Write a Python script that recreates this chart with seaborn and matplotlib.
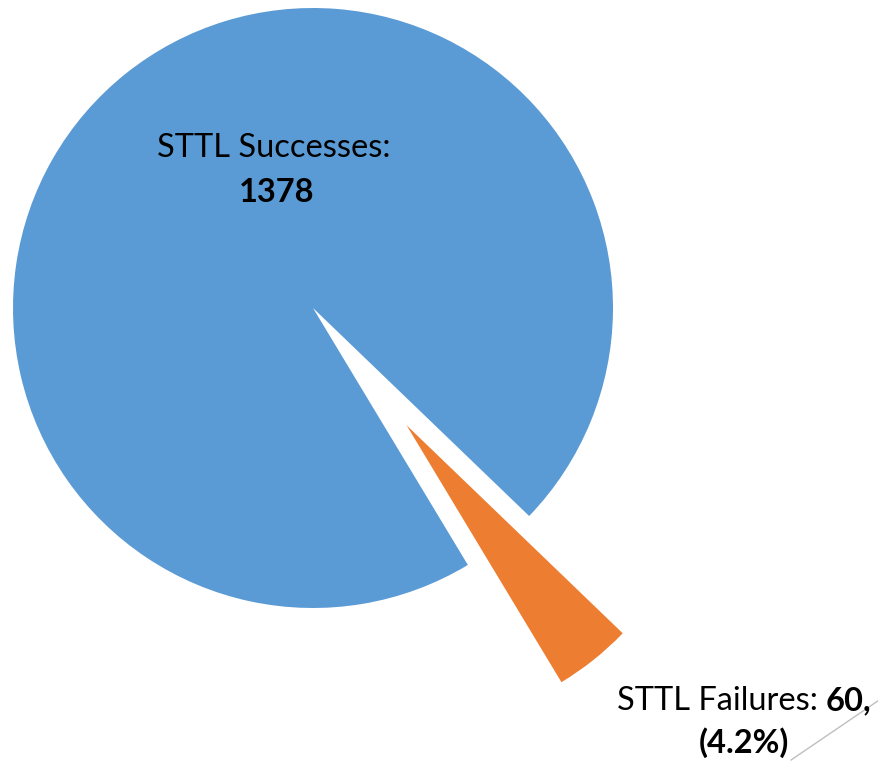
import matplotlib
matplotlib.use("Agg")
import matplotlib.pyplot as plt
import seaborn as sns

# data
categories = ["STTL Successes", "STTL Failures"]
counts = [1378, 60]
colors = ["#5B9BD5", "#ED7D31"]
explode = [0.0, 0.5]

sns.set_theme(style="white")
plt.rcParams["font.family"] = ["Lato", "DejaVu Sans"]

fig = plt.figure(figsize=(8.79, 7.64), dpi=100)
ax = fig.add_axes([0, 0, 1, 1])

total = sum(counts)
ax.pie(
    counts,
    colors=colors,
    explode=explode,
    startangle=-43.9,
    radius=1.0,
    wedgeprops={"linewidth": 0},
)

# keep 300 px per data unit on both axes, pie centre at (313, 308) px
ax.set_aspect("auto")
ax.set_xlim(-313 / 300, 566 / 300)
ax.set_ylim(-456 / 300, 308 / 300)
ax.axis("off")

fs = 23.5
# successes label
ax.text(-0.13, 0.504, f"{categories[0]}:", ha="center", va="baseline", fontsize=fs, color="black")
ax.text(-0.123, 0.354, f"{counts[0]}", ha="center", va="baseline", fontsize=fs,
        fontweight="bold", color="black")

# failures label (mixed weight on the first line)
ax.text(1.71, -1.34, f"{categories[1]}: ", ha="right", va="baseline", fontsize=fs, color="black")
ax.text(1.71, -1.34, f"{counts[1]},", ha="left", va="baseline", fontsize=fs,
        fontweight="bold", color="black")
ax.text(1.437, -1.483, f"({counts[1] / total * 100:.1f}%)", ha="center", va="baseline",
        fontsize=fs, fontweight="bold", color="black")

# leader line
ax.plot([1.593, 1.887], [-1.507, -1.307], color="#BFBFBF", lw=1, clip_on=False)

fig.savefig("out.png", dpi=100, facecolor="white")
